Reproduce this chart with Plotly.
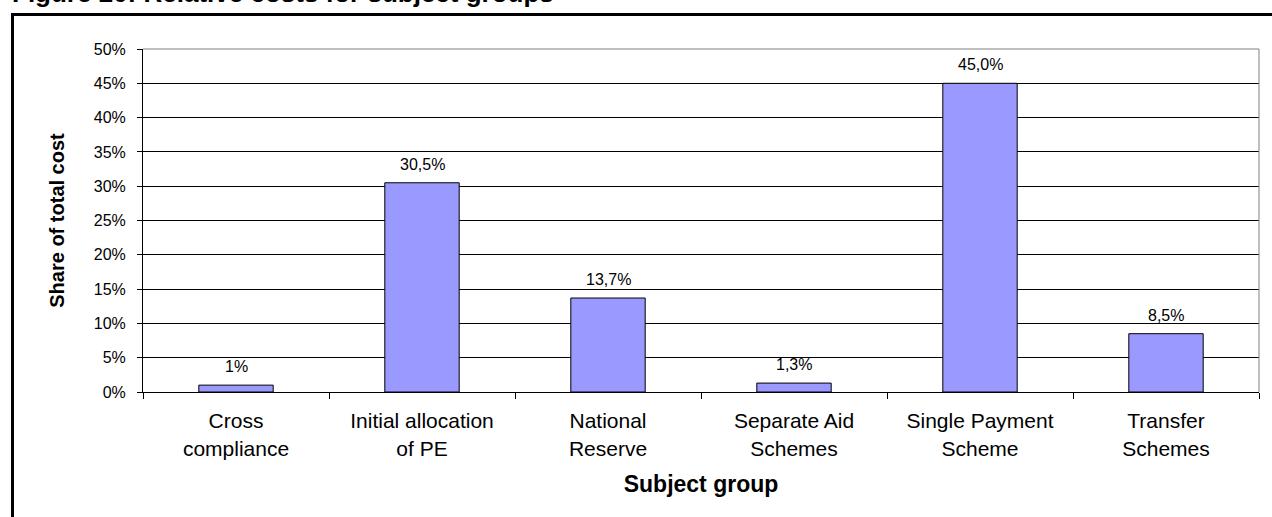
import plotly.graph_objects as go

# ---- data ----
categories = ["Cross<br>compliance", "Initial allocation<br>of PE", "National<br>Reserve",
              "Separate Aid<br>Schemes", "Single Payment<br>Scheme", "Transfer<br>Schemes"]
shares = [0.01, 0.305, 0.137, 0.013, 0.45, 0.085]
value_labels = ["1%", "30,5%", "13,7%", "1,3%", "45,0%", "8,5%"]
y_tick_values = [0, 0.05, 0.10, 0.15, 0.20, 0.25, 0.30, 0.35, 0.40, 0.45, 0.50]
y_tick_labels = ["0%", "5%", "10%", "15%", "20%", "25%", "30%", "35%", "40%", "45%", "50%"]
chart_title = "Figure 20: Relative costs for subject groups"
x_title = "Subject group"
y_title = "Share of total cost"

FONT = "Liberation Sans, Arial, sans-serif"
W, H = 1272, 517
L, R, T, B = 143, 13, 49, 125
PW, PH = W - L - R, H - T - B

def px_x(px):
    return (px - L) / PW

def px_y(py):
    return (H - B - py) / PH

fig = go.Figure()
fig.add_trace(go.Bar(
    x=categories, y=shares, width=0.4,
    marker=dict(color="#9999FF", line=dict(color="#000000", width=1)),
    showlegend=False, hoverinfo="skip",
))

annotations = []
for c, v, lab in zip(categories, shares, value_labels):
    annotations.append(dict(x=c, y=v, xref="x", yref="y", text=lab, showarrow=False,
                            yanchor="bottom", yshift=8,
                            font=dict(family=FONT, size=16, color="#000000")))
# title (cut off at the top of the image)
annotations.append(dict(x=px_x(10), y=px_y(-7), xref="paper", yref="paper", text="<b>" + chart_title + "</b>",
                        showarrow=False, xanchor="left", yanchor="middle",
                        font=dict(family=FONT, size=26, color="#000000")))
fig.update_layout(annotations=annotations)

shapes = [
    # outer frame
    dict(type="rect", xref="paper", yref="paper", x0=px_x(12.5), x1=px_x(1400), y0=px_y(14.5), y1=px_y(700),
         line=dict(color="#000000", width=3), layer="below"),
    # plot area border (top and right) in grey
    dict(type="line", xref="paper", yref="paper", x0=0, x1=1, y0=1, y1=1,
         line=dict(color="#808080", width=1), layer="above"),
    dict(type="line", xref="paper", yref="paper", x0=1, x1=1, y0=0, y1=1,
         line=dict(color="#808080", width=1), layer="above"),
]
fig.update_layout(shapes=shapes)

fig.update_layout(
    width=W, height=H,
    margin=dict(l=L, r=R, t=T, b=B, autoexpand=False),
    paper_bgcolor="#FFFFFF", plot_bgcolor="#FFFFFF",
    font=dict(family=FONT, color="#000000"),
    bargap=0.6,
)
fig.update_xaxes(
    type="category", range=[-0.5, 5.5],
    showline=True, linecolor="#000000", linewidth=1,
    ticks="outside", tickson="boundaries", ticklen=6, tickcolor="#000000",
    tickfont=dict(family=FONT, size=21, color="#000000"),
    ticklabelstandoff=10,
    showgrid=False,
    title=dict(text="<b>" + x_title + "</b>", font=dict(family=FONT, size=23, color="#000000"), standoff=17),
    automargin=False,
)
fig.update_yaxes(
    range=[0, 0.5], tickvals=y_tick_values, ticktext=y_tick_labels,
    showline=True, linecolor="#000000", linewidth=1,
    ticks="outside", ticklen=5, tickcolor="#000000",
    tickfont=dict(family=FONT, size=16, color="#000000"),
    ticklabelstandoff=8,
    showgrid=True, gridcolor="#000000", gridwidth=1,
    zeroline=False,
    title=dict(text="<b>" + y_title + "</b>", font=dict(family=FONT, size=20, color="#000000"), standoff=23),
    automargin=False,
)

fig.write_html("out.html", config={"displayModeBar": False},
               post_script="document.body.style.margin='0';document.body.style.overflow='hidden';")
